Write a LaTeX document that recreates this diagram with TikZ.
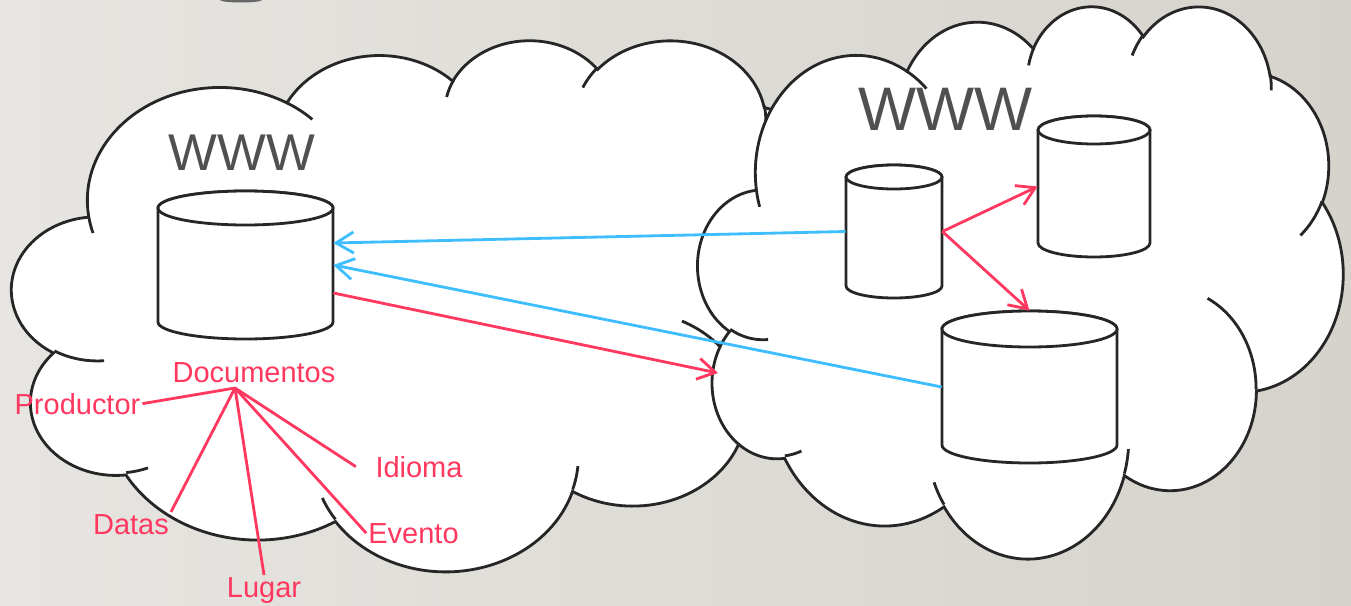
\documentclass[tikz,border=0pt]{standalone}
\usepackage{fontspec}
\setmainfont{Liberation Sans}
\usetikzlibrary{arrows.meta,fit,calc}

\definecolor{webred}{RGB}{255,56,96}
\definecolor{webblue}{RGB}{62,190,255}
\definecolor{inkgray}{RGB}{38,38,38}
\definecolor{wwwgray}{RGB}{80,80,80}
\definecolor{bgleft}{RGB}{231,229,225}
\definecolor{bgright}{RGB}{214,211,205}

\tikzset{
    cloudline/.style={line width=1.6pt, draw=inkgray},
    cylline/.style={line width=1.6pt, draw=inkgray, fill=white},
    bluelink/.style={line width=1.6pt, draw=webblue, -{Straight Barb[length=10pt,width=12pt]}},
    redlink/.style={line width=1.6pt, draw=webred, -{Straight Barb[length=10pt,width=12pt]}},
    tagline/.style={line width=1.6pt, draw=webred},
    tag/.style={text=webred, font=\fontsize{16.5}{18}\selectfont, inner sep=1pt, anchor=base},
    www/.style={text=wwwgray, inner sep=0pt}
}

% one puff of the cloud: x radius, y radius, start, sweep
\newcommand\ooarc[4]{arc[x radius=#1, y radius=#2,
    start angle={atan2(#1*sin(#3),#2*cos(#3))},
    delta angle={mod(atan2(#1*sin(#3+#4),#2*cos(#3+#4))-atan2(#1*sin(#3),#2*cos(#3))+720,360)}]}

% cloud drawn in a 43.2 x 43.2 box
\newcommand\webcloud{%
    \filldraw[cloudline, fill=white] (3.9,14.37)
        \ooarc{6.753}{9.19}{-190.4875}{123.7805}
        \ooarc{5.333}{7.267}{-144.1024}{89.9452}
        \ooarc{4.365}{5.945}{-145.8079}{99.723}
        \ooarc{4.857}{6.595}{-130.9861}{117.2417}
        \ooarc{5.333}{7.273}{-78.7089}{109.0269}
        \ooarc{6.775}{9.22}{-46.2673}{130.269}
        \ooarc{5.785}{7.867}{0.625}{114.0333}
        \ooarc{6.752}{9.215}{22.4516}{115.1726}
        \ooarc{7.72}{10.543}{66.2426}{75.711}
        \ooarc{4.36}{5.918}{-274.9421}{146.7356}
        \ooarc{4.345}{5.945}{-246.8285}{152.5189}
        -- cycle;
    \draw[cloudline]
        (4.693,26.177) \ooarc{4.345}{5.945}{86.742}{26.4295}
        (6.928,34.899) \ooarc{4.36}{5.918}{73.6105}{11.4475}
        (16.478,39.09) \ooarc{6.752}{9.215}{137.6242}{14.0811}
        (28.827,34.751) \ooarc{6.752}{9.215}{6.4533}{15.9984}
        (34.129,22.954) \ooarc{5.785}{7.867}{-70.2924}{70.9174}
        (41.798,15.354) \ooarc{5.333}{7.273}{30.318}{27.7515}
        (38.324,5.426) \ooarc{4.857}{6.595}{-13.7443}{14.8589}
        (29.078,3.952) \ooarc{4.857}{6.595}{-149.1815}{18.1954}
        (22.141,4.72) \ooarc{4.365}{5.945}{-163.4943}{17.6864}
        (14,5.192) \ooarc{6.753}{9.19}{-66.707}{12.3194}
        (4.127,15.789) \ooarc{6.753}{9.19}{157.6544}{11.8582};
}

% database: name, left, right, top, bottom, cap radius
\newcommand\datacyl[6]{%
    \node[fit={(#2,#4) (#3,#5)}, inner sep=0pt] (#1) {};
    \filldraw[cylline] (#2,#4+#6) -- (#2,#5-#6)
        arc[start angle=180, end angle=0, x radius={(#3-#2)/2}, y radius=#6]
        -- (#3,#4+#6)
        arc[start angle=0, end angle=-180, x radius={(#3-#2)/2}, y radius=#6] -- cycle;
    \draw[cylline] ({(#2+#3)/2},#4+#6) ellipse[x radius={(#3-#2)/2}, y radius=#6];
}

\begin{document}
\begin{tikzpicture}[x=0.02cm, y=-0.02cm]
    \useasboundingbox (0,0) rectangle (1351,605);
    \shade[left color=bgleft, right color=bgright] (0,0) rectangle (1351,605);
    \fill[black!60] (220,0) arc[start angle=180, end angle=0, x radius=21, y radius=2.5] -- cycle;

    % Clouds
    \begin{scope}[shift={(12,39)}, xscale=19.63, yscale=12.29]
        \webcloud
    \end{scope}
    \begin{scope}[shift={(698,5)}, xscale=14.93, yscale=12.78]
        \webcloud
    \end{scope}

    \node[www, font=\fontsize{29.4}{30}\selectfont] (wwwleft) at (242,153) {WWW};
    \node[www, font=\fontsize{35}{36}\selectfont] (wwwright) at (945.5,109) {WWW};

    % Databases
    \datacyl{docs}{158}{333}{191}{339}{17}
    \datacyl{mid}{846}{942}{165}{298}{12}
    \datacyl{upper}{1038}{1150}{116}{257}{14}
    \datacyl{big}{942}{1117}{311}{463}{18}

    % Links
    \coordinate (rim) at (718,373);
    \draw[bluelink] (mid.west) -- ($(docs.east)+(0,-22)$);
    \draw[bluelink] (big.west) -- (docs.east);
    \draw[redlink] ($(docs.east)+(0,28)$) -- (rim);
    \draw[redlink] (mid.east) -- (upper.west);
    \draw[redlink] (mid.east) -- (big.north);

    % Labels
    \node[tag] (doclabel) at (254,382) {Documentos};
    \node[tag] (prod) at (77.5,414) {Productor};
    \node[tag] (idioma) at (419,477) {Idioma};
    \node[tag] (datas) at (131,534) {Datas};
    \node[tag] (evento) at (413.5,543) {Evento};
    \node[tag] (lugar) at (264,597) {Lugar};

    \coordinate (root) at (235,388);
    \draw[tagline] (root) -- (prod.east);
    \draw[tagline] (root) -- (datas.north east);
    \draw[tagline] (root) -- (lugar.north);
    \draw[tagline] (root) -- (evento.west);
    \draw[tagline] (root) -- ([xshift=-10pt]idioma.west);
\end{tikzpicture}
\end{document}
